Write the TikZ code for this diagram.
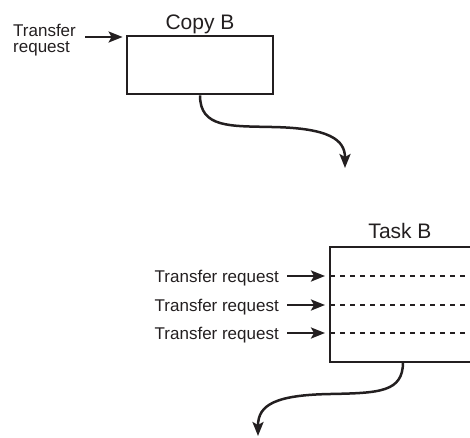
\documentclass[tikz,border=0pt]{standalone}
\usepackage{fontspec}
\setmainfont{Liberation Sans}
\usetikzlibrary{arrows.meta}
\definecolor{ink}{HTML}{231F20}
\begin{document}
\begin{tikzpicture}[x=1pt,y=-1pt,
  boxline/.style={draw=ink,line width=2.8pt},
  flow/.style={draw=ink,line width=2.5pt,-{Stealth[length=14pt,width=11pt,inset=3pt]}},
  slot/.style={draw=ink,line width=1.3pt,dash pattern=on 4.5pt off 5.5pt},
  small/.style={font=\fontsize{17}{15.5}\selectfont,text=ink,inner sep=0pt},
  title/.style={font=\fontsize{21}{24}\selectfont,text=ink,inner sep=0pt}]
\useasboundingbox (0,0) rectangle (470,437);
% Copy B
\node[boxline,minimum width=146pt,minimum height=58pt,inner sep=0pt] (copy) at (200,65) {};
\node[title,anchor=base] (copyt) at (200,29.5) {Copy B};
\node[small,anchor=base west,align=left] (tr0) at (13,52) {Transfer\\request};
\coordinate (in0) at (85,37);
\draw[flow] (in0) -- ([xshift=-3pt]in0 -| copy.west);
\coordinate (out1) at (345,168);
\draw[flow] (copy.south) .. controls (200,128) and (230,126) .. (272,127)
  .. controls (330,128) and (345,140) .. (out1);
% Task B
\coordinate (tbtl) at (330,247);
\coordinate (tbbl) at (330,362);
\coordinate (tbtr) at (472,247);
\coordinate (tbbr) at (472,362);
\draw[boxline] (tbtr) -- (tbtl) -- (tbbl) -- (tbbr);
\node[title,anchor=base] (taskt) at (400,238.5) {Task B};
\foreach \i/\y in {1/276,2/305,3/333}{
  \node[small,anchor=base east] (tr\i) at (279,\y+6.1) {Transfer request};
  \coordinate (d\i) at (330,\y);
  \coordinate (e\i) at (472,\y);
  \draw[flow] (tr\i.east |- d\i) ++(8,0) -- ([xshift=-5pt]d\i);
  \draw[slot] (d\i) -- (e\i);
}
\coordinate (tbs) at (403,362);
\coordinate (out2) at (258,436);
\draw[flow] (tbs) .. controls (403,392) and (380,393) .. (330,394)
  .. controls (275,395) and (258,405) .. (out2);
\end{tikzpicture}
\end{document}
